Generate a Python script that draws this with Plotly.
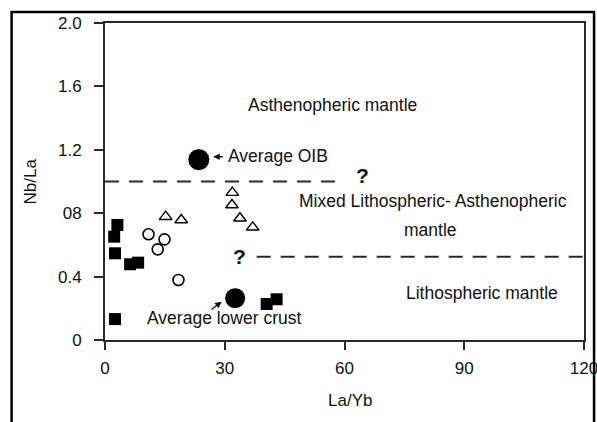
import plotly.graph_objects as go

# ---- data ----
sq_x = [3.1, 2.3, 2.5, 6.3, 8.3, 2.5, 40.5, 43.0]
sq_y = [0.726, 0.652, 0.547, 0.478, 0.488, 0.132, 0.227, 0.257]

circ_x = [10.9, 13.2, 14.9, 18.4]
circ_y = [0.667, 0.572, 0.635, 0.379]

tri_x = [15.2, 19.1, 31.9, 31.8, 33.8, 37.0]
tri_y = [0.778, 0.757, 0.93, 0.852, 0.768, 0.711]

ref_names = ["Average OIB", "Average lower crust"]
ref_x = [23.5, 32.6]
ref_y = [1.138, 0.264]

x_ticks = [0, 30, 60, 90, 120]
y_ticks = [0, 0.4, 0.8, 1.2, 1.6, 2.0]
y_tick_text = ["0", "0.4", "08", "1.2", "1.6", "2.0"]

upper_boundary = dict(x=[0, 59.2], y=1.0)
lower_boundary = dict(x=[38.0, 120], y=0.525)

FONT = "Liberation Sans, Arial, sans-serif"
INK = "#111111"
LINE = "#2a2a2a"

fig = go.Figure()
fig.add_trace(go.Scatter(x=sq_x, y=sq_y, mode="markers",
                         marker=dict(symbol="square", size=12, color="black", opacity=1),
                         showlegend=False, cliponaxis=False))
fig.add_trace(go.Scatter(x=circ_x, y=circ_y, mode="markers",
                         marker=dict(symbol="circle", size=11, color="white", opacity=1,
                                     line=dict(color="black", width=1.6)),
                         showlegend=False))
fig.add_trace(go.Scatter(x=tri_x, y=tri_y, mode="markers",
                         marker=dict(symbol="triangle-up", size=11, color="white", opacity=1,
                                     line=dict(color="black", width=1.4)),
                         showlegend=False))
fig.add_trace(go.Scatter(x=ref_x, y=ref_y, mode="markers",
                         marker=dict(symbol="circle", size=[22, 21], color="black", opacity=1),
                         showlegend=False))

# boundaries
for b in (upper_boundary, lower_boundary):
    fig.add_shape(type="line", xref="x", yref="y",
                  x0=b["x"][0], x1=b["x"][1], y0=b["y"], y1=b["y"],
                  line=dict(color=LINE, width=2, dash="14px,10px"))

# outer frame
fig.add_shape(type="rect", xref="paper", yref="paper",
              x0=-0.195, x1=1.021, y0=-0.4, y1=1.035,
              line=dict(color="black", width=2.5), layer="above")

ann = []
def txt(x, y, s, size=17.5, xanchor="center", bold=False):
    ann.append(dict(x=x, y=y, xref="x", yref="y", text=("<b>%s</b>" % s) if bold else s,
                    showarrow=False, xanchor=xanchor, yanchor="middle",
                    font=dict(family=FONT, size=size, color=INK)))

txt(56.9, 1.485, "Asthenopheric mantle")
txt(30.2, 1.158, "Average OIB", xanchor="left")
txt(82.2, 0.875, "Mixed Lithospheric- Asthenopheric")
txt(81.5, 0.695, "mantle")
txt(94.4, 0.298, "Lithospheric mantle")
txt(10.0, 0.138, "Average lower crust", xanchor="left")
txt(64.6, 1.04, "?", size=21, bold=True)
txt(33.8, 0.53, "?", size=21, bold=True)

# arrows
ann.append(dict(x=27.1, y=1.156, ax=29.9, ay=1.156, xref="x", yref="y", axref="x", ayref="y",
                text="", showarrow=True, arrowhead=2, arrowsize=1, arrowwidth=1.3,
                arrowcolor=INK))
ann.append(dict(x=29.2, y=0.242, ax=26.3, ay=0.185, xref="x", yref="y", axref="x", ayref="y",
                text="", showarrow=True, arrowhead=2, arrowsize=1, arrowwidth=1.3,
                arrowcolor=INK))

# axis titles
ann.append(dict(x=(350 - 105) / 479, y=(340 - 400) / 317, xref="paper", yref="paper",
                text="La/Yb", showarrow=False, xanchor="center", yanchor="middle",
                font=dict(family=FONT, size=17, color=INK)))
ann.append(dict(x=(30 - 105) / 479, y=0.5, xref="paper", yref="paper",
                text="Nb/La", showarrow=False, textangle=-90, xanchor="center", yanchor="middle",
                font=dict(family=FONT, size=17, color=INK)))

fig.update_layout(
    width=597, height=422,
    margin=dict(l=105, r=13, t=23, b=82, autoexpand=False),
    paper_bgcolor="white", plot_bgcolor="white",
    annotations=ann,
    xaxis=dict(range=[0, 120], tickvals=x_ticks, ticks="outside", ticklen=8, tickwidth=1.8,
               tickcolor=LINE, showline=True, linecolor=LINE, linewidth=2, mirror=True,
               showgrid=False, zeroline=False, ticklabelstandoff=4,
               ticklabeloverflow="allow", automargin=False,
               tickfont=dict(family=FONT, size=17, color=INK)),
    yaxis=dict(range=[0, 2.0], tickvals=y_ticks, ticktext=y_tick_text, ticks="outside",
               ticklen=9, tickwidth=1.8, tickcolor=LINE, showline=True, linecolor=LINE,
               linewidth=2, mirror=True, showgrid=False, zeroline=False,
               ticklabelstandoff=9, ticklabeloverflow="allow", automargin=False,
               tickfont=dict(family=FONT, size=17, color=INK)),
)

fig.write_html("out.html")
